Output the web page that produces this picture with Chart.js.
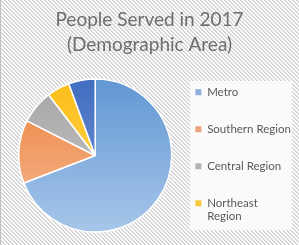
<!DOCTYPE html>
<html>
<head>
<meta charset="utf-8">
<script src="https://cdn.jsdelivr.net/npm/chart.js@4"></script>
<style>
  html, body { margin: 0; padding: 0; background: #fff; }
  #wrap { width: 299px; height: 245px; }
</style>
</head>
<body>
<div id="wrap"><canvas id="pieChart" width="299" height="245"></canvas></div>
<script>
var categories = ['Metro', 'Southern Region', 'Central Region', 'Northeast Region', 'Other'];
var served = [69.0, 13.3, 7.1, 4.8, 5.6];
var topColors = ['#5f95d3', '#ec7f3a', '#a3a3a3', '#fcbd14', '#3f6cc0'];
var bottomColors = ['#a9c8ea', '#f6bf9a', '#cfcfcf', '#fed866', '#7c9ad6'];
var boxColors = ['#8eaedb', '#eba47c', '#b4b4b4', '#f4c93a', '#6a8bd0'];

// light diagonal hatch like the office chart background
var pat = document.createElement('canvas');
pat.width = 4; pat.height = 4;
var pctx = pat.getContext('2d');
pctx.fillStyle = '#ffffff';
pctx.fillRect(0, 0, 4, 4);
pctx.fillStyle = '#d6d6d6';
for (var i = 0; i < 4; i++) {
    pctx.fillRect(i, i, 1, 1);
    pctx.fillRect((i + 1) % 4, i, 1, 1);
}

var backdrop = {
    id: 'backdrop',
    afterLayout: function(chart) {
        // keep the title centred on the whole canvas
        chart.titleBlock.left = 0;
        chart.titleBlock.right = chart.width;
        chart.titleBlock.width = chart.width;
    },
    beforeDraw: function(chart) {
        var c = chart.ctx;
        c.save();
        c.fillStyle = c.createPattern(pat, 'repeat');
        c.fillRect(0, 0, chart.width, chart.height);
        c.fillStyle = '#bfbfbf';
        c.fillRect(0, 0, 1, chart.height);
        c.fillStyle = 'rgba(255,255,255,0.78)';
        c.fillRect(190, 81, 102, 149);
        c.restore();
    }
};

function sliceFill(context) {
    var chart = context.chart;
    var area = chart.chartArea;
    if (!area) return topColors[context.dataIndex];
    var g = chart.ctx.createLinearGradient(0, area.top, 0, area.bottom);
    g.addColorStop(0, topColors[context.dataIndex]);
    g.addColorStop(1, bottomColors[context.dataIndex]);
    return g;
}

var ctx = document.getElementById('pieChart').getContext('2d');
var pieChart = new Chart(ctx, {
    type: 'pie',
    data: {
        labels: categories,
        datasets: [{
            label: 'People Served',
            data: served,
            backgroundColor: sliceFill,
            borderColor: '#ffffff',
            borderWidth: 1.5,
            radius: 76.5
        }]
    },
    options: {
        responsive: false,
        animation: false,
        layout: { padding: { left: 5, right: -2, top: 0, bottom: 8 } },
        plugins: {
            tooltip: { enabled: false },
            title: {
                display: true,
                text: ['People Served in 2017', '(Demographic Area)'],
                color: '#6e6e6e',
                font: { family: 'Lato', size: 19, weight: 'normal', lineHeight: 1.3 },
                padding: { top: 8, bottom: 16.6 }
            },
            legend: {
                position: 'right',
                align: 'center',
                fullSize: false,
                labels: {
                    color: '#595959',
                    font: { family: 'Lato', size: 11.5, lineHeight: '13.5px' },
                    boxWidth: 6,
                    boxHeight: 6,
                    padding: 10,
                    generateLabels: function(chart) {
                        return categories.slice(0, 4).map(function(name, i) {
                            return {
                                text: name === 'Northeast Region' ? ['Northeast', 'Region'] : [name, ''],
                                fillStyle: boxColors[i],
                                strokeStyle: boxColors[i],
                                lineWidth: 0,
                                fontColor: '#595959',
                                index: i
                            };
                        });
                    }
                }
            }
        }
    },
    plugins: [backdrop]
});
</script>
</body>
</html>
